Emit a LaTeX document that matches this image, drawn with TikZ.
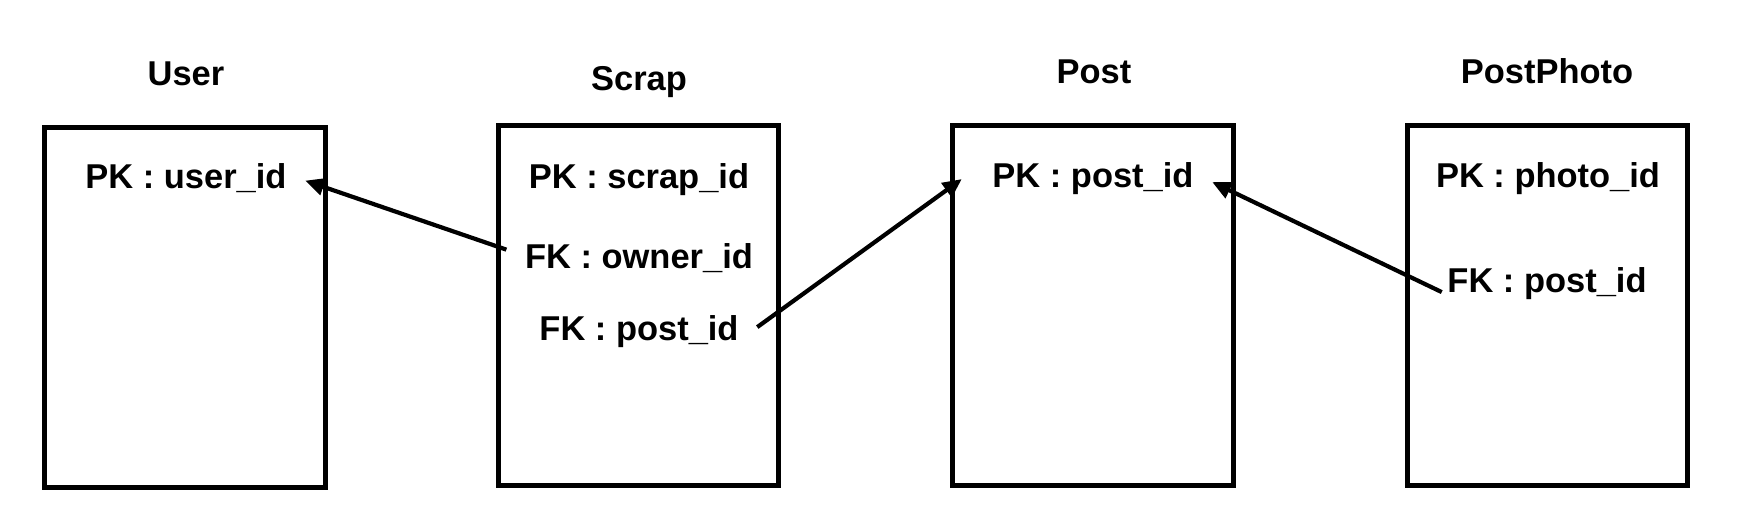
\documentclass[tikz,border=0pt]{standalone}
\usepackage{fontspec}
\setmainfont{Liberation Sans}
\usetikzlibrary{arrows.meta,calc}
\begin{document}
\begin{tikzpicture}[x=0.01cm,y=-0.01cm,
  tbl/.style={draw,line width=0.05cm,minimum width=2.8cm,minimum height=3.6cm,inner sep=0pt},
  ttl/.style={anchor=base,inner sep=0pt,font=\fontsize{9.8pt}{12pt}\selectfont\bfseries},
  fld/.style={anchor=base,inner xsep=0.18cm,inner ysep=0pt,font=\fontsize{9.8pt}{12pt}\selectfont\bfseries},
  fk/.style={line width=0.042cm,-{Triangle[length=0.19cm,width=0.17cm]}}]
\useasboundingbox (0,0) rectangle (1758,530);
% tables
\node[tbl] (user) at (185,307.5) {};
\node[tbl] (scrap) at (638.5,305.5) {};
\node[tbl] (post) at (1093,305.5) {};
\node[tbl] (photo) at (1547.5,305.5) {};
% titles
\node[ttl] (userT) at (186,85) {User};
\node[ttl] (scrapT) at (639,90) {Scrap};
\node[ttl] (postT) at (1094,83) {Post};
\node[ttl] (photoT) at (1547,83) {PostPhoto};
% fields
\node[fld] (userpk) at (186,188) {PK : user\_id};
\node[fld] (scrappk) at (639,188) {PK : scrap\_id};
\node[fld] (scrapowner) at (639,268) {FK : owner\_id};
\node[fld] (scrappost) at (639,340) {FK : post\_id};
\node[fld] (postpk) at (1093,187) {PK : post\_id};
\node[fld] (photopk) at (1548,187) {PK : photo\_id};
\node[fld] (photopost) at (1547,292) {FK : post\_id};
% connectors
\draw[fk] ($(scrapowner.west)+(0,-8)$) -- ($(userpk.east)+(0,3)$);
\draw[fk] ($(scrappost.east)+(0,-4)$) -- ($(postpk.west)+(-12,1)$);
\draw[fk] ($(photopost.west)+(13,9)$) -- ($(postpk.east)+(0,4)$);
\end{tikzpicture}
\end{document}
